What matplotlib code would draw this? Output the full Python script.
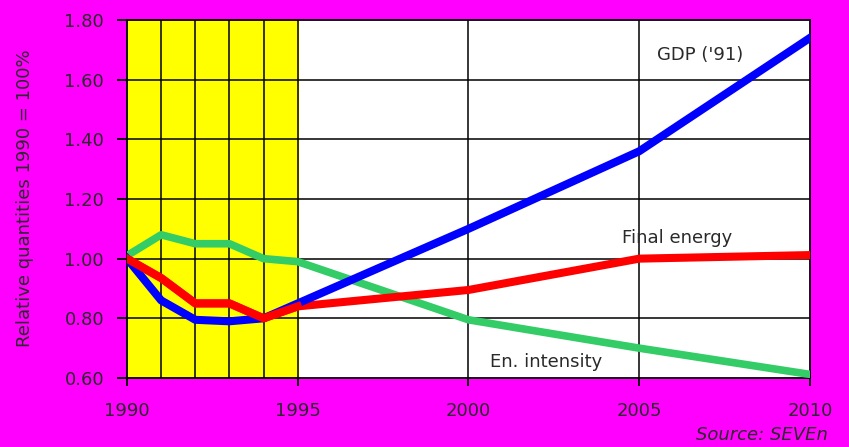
import numpy as np
import matplotlib
matplotlib.use("Agg")
import matplotlib.pyplot as plt

years = [1990, 1991, 1992, 1993, 1994, 1995, 2000, 2005, 2010]
gdp = [1.00, 0.86, 0.795, 0.79, 0.80, 0.85, 1.10, 1.36, 1.74]
final_energy = [1.00, 0.935, 0.85, 0.85, 0.80, 0.84, 0.895, 1.00, 1.012]
en_intensity = [1.01, 1.08, 1.05, 1.05, 1.00, 0.99, 0.795, 0.70, 0.612]

xticks = [1990, 1995, 2000, 2005, 2010]
yticks = [0.60, 0.80, 1.00, 1.20, 1.40, 1.60, 1.80]

plt.rcParams['font.family'] = ['DejaVu Sans']
txt = '#2a2a2a'
magenta = '#ff00ff'

fig = plt.figure(figsize=(8.49, 4.47), dpi=100, facecolor=magenta)
ax = fig.add_axes([0.1496, 0.1544, 0.8044, 0.8009])
ax.set_facecolor('white')

ax.set_xlim(1990, 2010)
ax.set_ylim(0.60, 1.80)

# yellow history band with yearly lines
ax.axvspan(1990, 1995, color='#ffff00', zorder=0)
for yr in [1991, 1992, 1993, 1994, 1995, 2000, 2005]:
    ax.axvline(yr, color='black', lw=1.1, zorder=1)
for v in yticks[1:-1]:
    ax.axhline(v, color='black', lw=1.1, zorder=1)

ax.plot(years, en_intensity, color='#33cc66', lw=5.5, zorder=3, solid_joinstyle='round')
ax.plot(years, final_energy, color='#ff0000', lw=5.8, zorder=4, solid_joinstyle='round')
ax.plot(years, gdp, color='#0000ff', lw=5.8, zorder=5, solid_joinstyle='round')
# red on top of blue during the early years
ax.plot(years[:6], final_energy[:6], color='#ff0000', lw=5.8, zorder=6)

ax.set_xticks(xticks)
ax.set_yticks(yticks)
ax.set_yticklabels(['%.2f' % v for v in yticks])
ax.tick_params(direction='out', width=1.3, colors='black',
               labelcolor=txt, labelsize=13)
ax.tick_params(axis='x', length=6, pad=11)
ax.tick_params(axis='y', length=7, pad=9.5)
for s in ax.spines.values():
    s.set_color('black')
    s.set_linewidth(1.3)

fig.text(25 / 849, 1 - 198 / 447, 'Relative quantities 1990 = 100%', fontsize=13,
         color=txt, rotation=90, ha='center', va='center')

ax.text(2006.77, 1.683, "GDP ('91)", fontsize=13, color=txt, ha='center', va='center')
ax.text(2006.1, 1.069, 'Final energy', fontsize=13, color=txt, ha='center', va='center')
ax.text(2002.26, 0.654, 'En. intensity', fontsize=13, color=txt, ha='center', va='center')
fig.text(828 / 849, 1 - 435 / 447, 'Source: SEVEn', fontsize=13, color=txt,
         ha='right', va='center', style='italic')

fig.savefig('out.png', dpi=100, facecolor=magenta)
